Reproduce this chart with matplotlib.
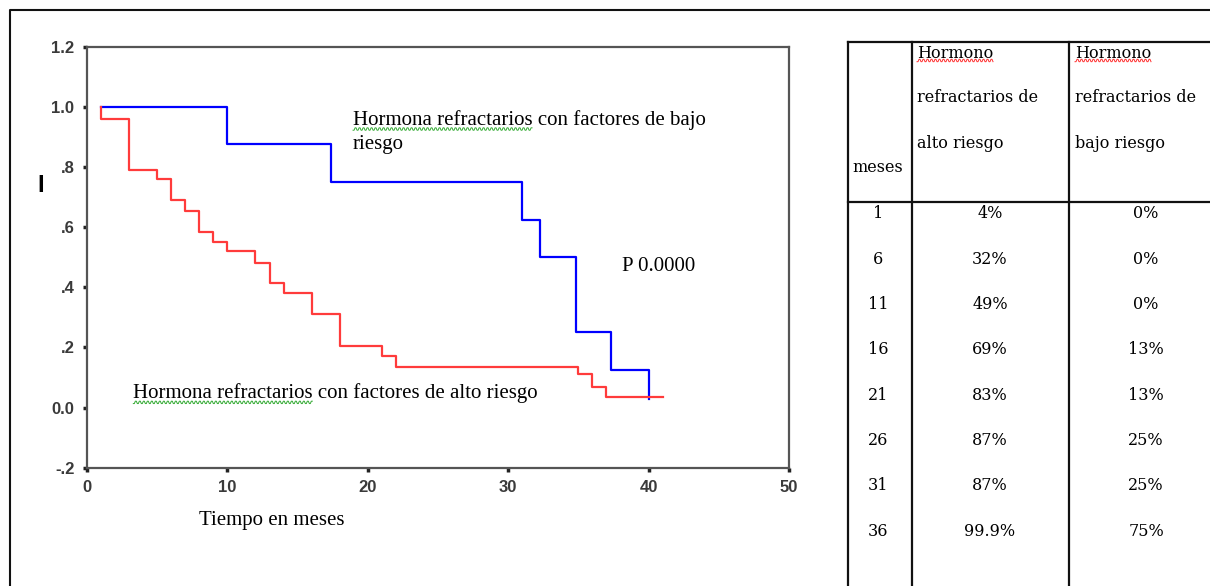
import numpy as np
import matplotlib
matplotlib.use("Agg")
import matplotlib.pyplot as plt

# curvas de supervivencia (Kaplan-Meier)
meses_alto = [1, 1, 3, 5, 6, 7, 8, 9, 10, 12, 13, 14, 16, 18, 21, 22, 35, 36, 37, 41]
surv_alto = [1.0, 0.96, 0.79, 0.76, 0.69, 0.655, 0.585, 0.55, 0.52, 0.48, 0.415, 0.38,
             0.31, 0.205, 0.17, 0.135, 0.11, 0.07, 0.035, 0.035]
meses_bajo = [1, 10, 17.4, 31, 32.3, 34.8, 37.3, 40]
surv_bajo = [1.0, 0.875, 0.75, 0.625, 0.5, 0.25, 0.125, 0.03]

y_ticks = [-0.2, 0.0, 0.2, 0.4, 0.6, 0.8, 1.0, 1.2]
y_labels = ['-.2', '0.0', '.2', '.4', '.6', '.8', '1.0', '1.2']
x_ticks = [0, 10, 20, 30, 40, 50]

# tabla de la derecha
tabla_meses = ['1', '6', '11', '16', '21', '26', '31', '36']
tabla_alto = ['4%', '32%', '49%', '69%', '83%', '87%', '87%', '99.9%']
tabla_bajo = ['0%', '0%', '0%', '13%', '13%', '25%', '25%', '75%']

SERIF = 'Liberation Serif'
TSERIF = 'DejaVu Serif'
SANS = 'Liberation Sans'

fig = plt.figure(figsize=(12.10, 5.86), dpi=100)

ax = fig.add_axes([87 / 1210, 1 - 467.7 / 586, 702 / 1210, 421 / 586])
ax.step(meses_bajo, surv_bajo, where='post', color='#0000ff', lw=1.6)
ax.step(meses_alto, surv_alto, where='post', color='#ff3b3b', lw=1.6)
ax.set_xlim(0, 50)
ax.set_ylim(-0.2, 1.2)
ax.set_xticks(x_ticks)
ax.set_yticks(y_ticks)
ax.set_yticklabels(y_labels)
for s in ax.spines.values():
    s.set_color('#555555')
    s.set_linewidth(1.6)
ax.tick_params(direction='out', length=3, width=2.5, color='#222222',
               labelsize=12, labelcolor='#3a3a3a', pad=6)
for lab in ax.get_xticklabels() + ax.get_yticklabels():
    lab.set_family(SANS)
    lab.set_fontweight('bold')

t1 = ax.text(18.95, 0.956, 'Hormona refractarios con factores de bajo',
             family=SERIF, fontsize=15, va='center', ha='left')
ax.text(18.95, 0.876, 'riesgo', family=SERIF, fontsize=15, va='center', ha='left')
ax.text(38.1, 0.468, 'P 0.0000', family=SERIF, fontsize=15, va='center', ha='left')
t2 = ax.text(3.3, 0.047, 'Hormona refractarios con factores de alto riesgo',
             family=SERIF, fontsize=15, va='center', ha='left')

# capa superior en pixeles para marco y tabla
over = fig.add_axes([0, 0, 1, 1])
over.set_zorder(5)
over.patch.set_visible(False)
over.set_xlim(0, 1210)
over.set_ylim(586, 0)
over.axis('off')

over.text(199, 520, 'Tiempo en meses', family=SERIF, fontsize=15, va='center', ha='left')
over.text(41, 186, 'I', family=SANS, fontsize=17, fontweight='bold', va='center', ha='center')

# marco exterior
over.plot([10, 10, 1210], [586, 10, 10], color='#111111', lw=1.5, clip_on=False)

# tabla
x_cols = [848, 911.7, 1069.3]
over.plot([848, 1210], [42, 42], color='#111111', lw=1.6)
over.plot([848, 1210], [202, 202], color='#111111', lw=1.6)
for xc in x_cols:
    over.plot([xc, xc], [42, 586], color='#111111', lw=1.6)

hdr = dict(family=TSERIF, fontsize=11.5, va='center', ha='left')
h1 = over.text(917, 53, 'Hormono', **hdr)
over.text(917, 97, 'refractarios de', **hdr)
over.text(917, 143, 'alto riesgo', **hdr)
h2 = over.text(1075, 53, 'Hormono', **hdr)
over.text(1075, 97, 'refractarios de', **hdr)
over.text(1075, 143, 'bajo riesgo', **hdr)
over.text(852, 167, 'meses', **hdr)

row_y = 214 + 45.3 * np.arange(len(tabla_meses))
for yy, m, a, b in zip(row_y, tabla_meses, tabla_alto, tabla_bajo):
    over.text(878, yy, m, family=TSERIF, fontsize=11.5, va='center', ha='center')
    over.text(990, yy, a, family=TSERIF, fontsize=11.5, va='center', ha='center')
    over.text(1146, yy, b, family=TSERIF, fontsize=11.5, va='center', ha='center')

# subrayado ondulado del corrector
fig.canvas.draw()
renderer = fig.canvas.get_renderer()
inv = over.transData.inverted()


def squiggle(txt, prefix, color):
    tmp = fig.text(0, 0, prefix, family=txt.get_fontfamily(), fontsize=txt.get_fontsize())
    w = tmp.get_window_extent(renderer).width
    tmp.remove()
    bb = txt.get_window_extent(renderer)
    (x0, y0) = inv.transform((bb.x0, bb.y0))
    (x1, _) = inv.transform((bb.x0 + w, bb.y0))
    xs = np.arange(x0, x1, 1.0)
    ys = y0 - 1.0 + 1.2 * np.where(np.arange(len(xs)) % 4 < 2, 1, -1)
    over.plot(xs, ys, color=color, lw=0.7)


squiggle(t1, 'Hormona refractarios', '#33aa33')
squiggle(t2, 'Hormona refractarios', '#33aa33')
squiggle(h1, 'Hormono', '#ff3333')
squiggle(h2, 'Hormono', '#ff3333')

fig.savefig('out.png', dpi=100)
